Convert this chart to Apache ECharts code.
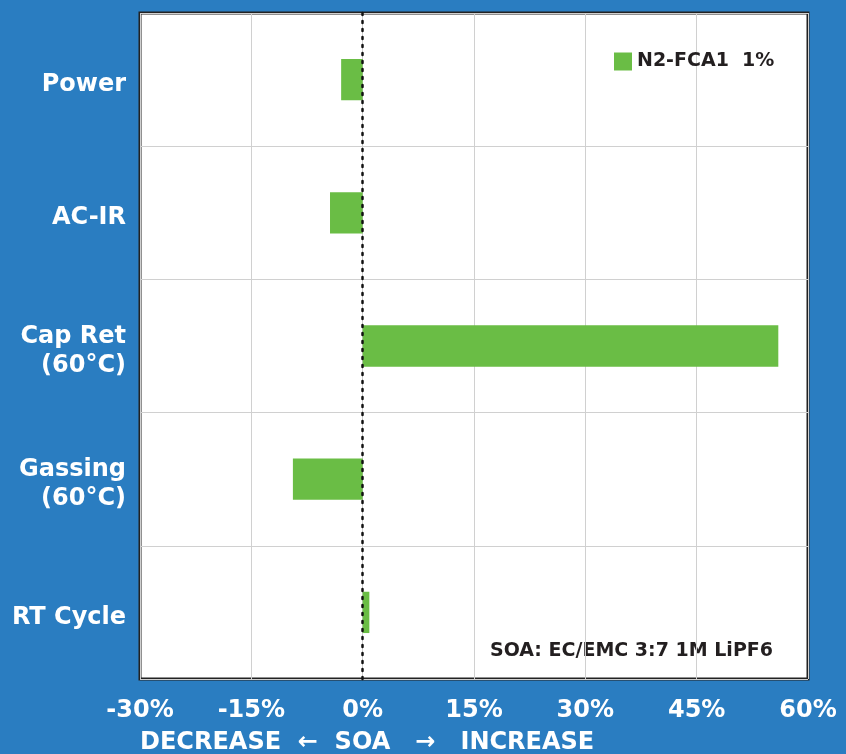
<!DOCTYPE html>
<html>
<head>
<meta charset="utf-8">
<script src="https://cdn.jsdelivr.net/npm/echarts@6/dist/echarts.min.js"></script>
<style>
  html, body { margin: 0; padding: 0; background: #2a7dc1; }
  #chart { width: 846px; height: 754px; }
</style>
</head>
<body>
<div id="chart"></div>
<script>
// categories, top to bottom
const categories = ["Power", "AC-IR", "Cap Ret\n(60°C)", "Gassing\n(60°C)", "RT Cycle"];
// change vs SOA, %
const changeValues = [-2.9, -4.4, 56.0, -9.4, 0.9];
const seriesName = "N2-FCA1  1%";
const xTicks = [-30, -15, 0, 15, 30, 45, 60];

const FONT = "DejaVu Sans";
const chart = echarts.init(document.getElementById("chart"));

const option = {
  backgroundColor: "#2a7dc1",
  animation: false,
  grid: {
    left: 140,
    right: 38,
    top: 13,
    bottom: 75,
    show: true,
    backgroundColor: "#fff",
    borderColor: "#222",
    borderWidth: 3,
  },
  legend: {
    data: [seriesName],
    left: 609,
    top: 47,
    itemWidth: 18,
    itemHeight: 18,
    itemGap: 7,
    icon: "rect",
    textStyle: {
      color: "#231f20",
      fontSize: 19,
      fontWeight: "bold",
      fontFamily: FONT,
    },
  },
  xAxis: {
    type: "value",
    min: xTicks[0],
    max: xTicks[xTicks.length - 1],
    interval: 15,
    axisLine: { show: false },
    axisTick: { show: false },
    axisLabel: {
      formatter: "{value}%",
      color: "#fff",
      fontSize: 24,
      fontFamily: FONT,
      fontWeight: "bold",
      margin: 20,
    },
    splitLine: { show: true, lineStyle: { color: "#d0d0d0", width: 1 } },
  },
  yAxis: {
    type: "category",
    data: categories,
    inverse: true,
    axisLine: { show: false },
    axisTick: { show: false },
    axisLabel: {
      // small empty first line nudges the labels a little lower
      formatter: (v) => "{s| }\n" + v,
      rich: { s: { fontSize: 1, lineHeight: 10 } },
      color: "#fff",
      fontSize: 24,
      fontFamily: FONT,
      fontWeight: "bold",
      lineHeight: 29,
      margin: 14,
      align: "right",
    },
    splitLine: { show: true, lineStyle: { color: "#d0d0d0", width: 1 } },
  },
  graphic: [
    {
      type: "text",
      left: 140,
      top: 731,
      style: {
        text: "DECREASE  ←  SOA   →   INCREASE",
        fill: "#fff",
        fontSize: 24,
        fontFamily: FONT,
        fontWeight: "bold",
      },
    },
    {
      type: "text",
      right: 73,
      top: 642,
      style: {
        text: "SOA: EC/EMC 3:7 1M LiPF6",
        fill: "#231f20",
        fontSize: 19,
        fontFamily: FONT,
        fontWeight: "bold",
      },
    },
  ],
  series: [
    {
      name: seriesName,
      type: "bar",
      data: changeValues,
      barWidth: "31%",
      itemStyle: { color: "#6abd45" },
      markLine: {
        silent: true,
        symbol: "none",
        label: { show: false },
        lineStyle: { color: "#111", type: [2, 6], width: 2.5, cap: "round" },
        data: [{ xAxis: 0 }],
      },
    },
  ],
};

chart.setOption(option);
</script>
</body>
</html>
